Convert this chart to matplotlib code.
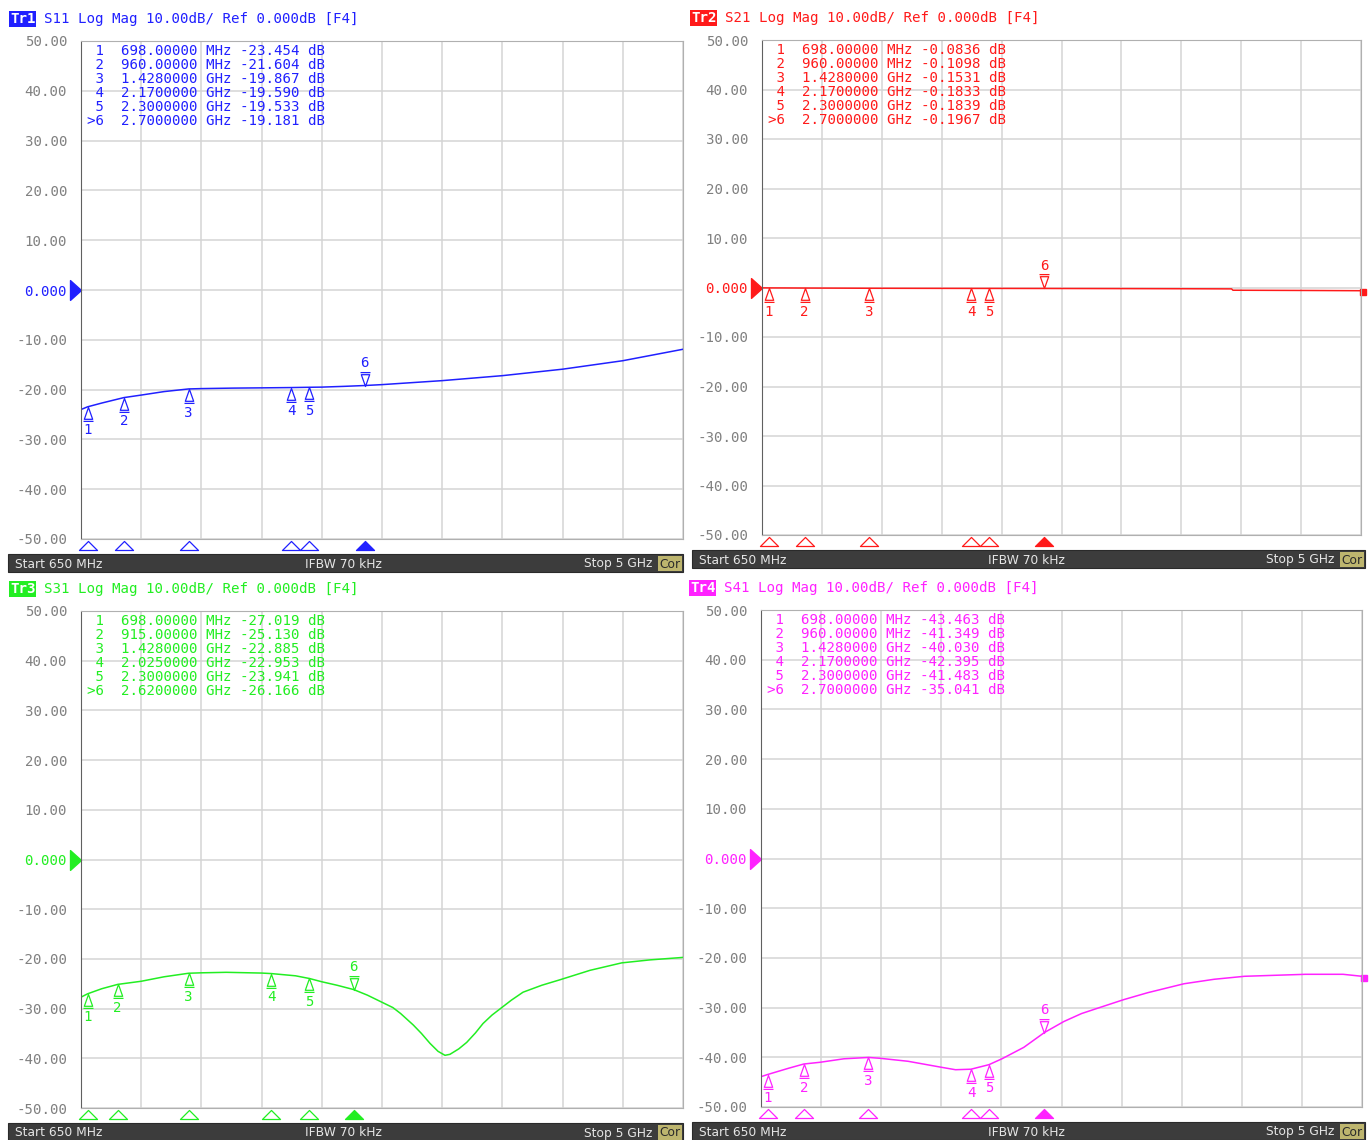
import numpy as np
import matplotlib
matplotlib.use('Agg')
import matplotlib.pyplot as plt
import matplotlib.transforms as mtransforms
from matplotlib.path import Path
from matplotlib.patches import Rectangle

W, H = 1370, 1140
F_START, F_STOP = 650, 5000

# данные трасс (частота в МГц, уровень в дБ)
s11_freq = [650, 698, 800, 960, 1085, 1250, 1428, 1520, 1750, 1955, 2170, 2300, 2390,
            2550, 2700, 2825, 3260, 3695, 4130, 4565, 5000]
s11_db = [-24.0, -23.454, -22.7, -21.604, -21.1, -20.4, -19.867, -19.8, -19.7, -19.65,
          -19.59, -19.533, -19.5, -19.35, -19.181, -19.0, -18.2, -17.2, -15.9, -14.2, -11.9]

s21_freq = [650, 698, 800, 960, 1200, 1428, 1800, 2170, 2300, 2700, 3200, 3700, 4060,
            4070, 4600, 5000]
s21_db = [-0.07, -0.0836, -0.09, -0.1098, -0.13, -0.1531, -0.17, -0.1833, -0.1839,
          -0.1967, -0.22, -0.25, -0.28, -0.55, -0.6, -0.65]

s31_freq = [650, 698, 800, 915, 1085, 1250, 1428, 1520, 1700, 1955, 2025, 2200, 2300,
            2390, 2500, 2620, 2720, 2823, 2904, 2960, 3051, 3110, 3172, 3230, 3280, 3316,
            3380, 3437, 3500, 3555, 3620, 3690, 3760, 3844, 3980, 4111, 4328, 4557, 4761,
            5000]
s31_db = [-27.7, -27.019, -26.0, -25.130, -24.5, -23.6, -22.885, -22.8, -22.7, -22.85,
          -22.953, -23.4, -23.941, -24.6, -25.3, -26.166, -27.3, -28.7, -29.8, -31.0,
          -33.3, -35.0, -37.0, -38.6, -39.4, -39.2, -38.1, -36.8, -34.9, -33.0, -31.3,
          -29.8, -28.3, -26.7, -25.3, -24.2, -22.3, -20.8, -20.2, -19.7]

s41_freq = [650, 698, 850, 960, 1078, 1250, 1428, 1512, 1714, 1954, 2058, 2170, 2300,
            2394, 2552, 2700, 2842, 2970, 3100, 3275, 3449, 3712, 3930, 4150, 4591, 4863,
            5000]
s41_db = [-43.9, -43.463, -42.2, -41.349, -41.0, -40.3, -40.030, -40.2, -40.8, -42.0,
          -42.5, -42.395, -41.483, -40.3, -38.0, -35.041, -32.8, -31.2, -30.0, -28.4,
          -27.0, -25.2, -24.3, -23.7, -23.3, -23.3, -23.7]

# маркеры
mark_labels = ['1', '2', '3', '4', '5', '>6']
s11_mf = [698, 960, 1428, 2170, 2300, 2700]
s11_mv = [-23.454, -21.604, -19.867, -19.590, -19.533, -19.181]
s21_mf = [698, 960, 1428, 2170, 2300, 2700]
s21_mv = [-0.0836, -0.1098, -0.1531, -0.1833, -0.1839, -0.1967]
s31_mf = [698, 915, 1428, 2025, 2300, 2620]
s31_mv = [-27.019, -25.130, -22.885, -22.953, -23.941, -26.166]
s41_mf = [698, 960, 1428, 2170, 2300, 2700]
s41_mv = [-43.463, -41.349, -40.030, -42.395, -41.483, -35.041]

y_ticks = list(range(-50, 51, 10))

MONO = 'DejaVu Sans Mono'
FS = 10.2

panels = [
    dict(tr='Tr1', name='S11', color='#2020ff', f=s11_freq, v=s11_db, mf=s11_mf, mv=s11_mv,
         dec=3, box=(81, 41, 683, 539), bar=(8, 683), edge=False),
    dict(tr='Tr2', name='S21', color='#ff1a1a', f=s21_freq, v=s21_db, mf=s21_mf, mv=s21_mv,
         dec=4, box=(762, 40, 1361, 535), bar=(692, 1365), edge=True),
    dict(tr='Tr3', name='S31', color='#22ee22', f=s31_freq, v=s31_db, mf=s31_mf, mv=s31_mv,
         dec=3, box=(81, 611, 683, 1108), bar=(8, 683), edge=False),
    dict(tr='Tr4', name='S41', color='#ff22ff', f=s41_freq, v=s41_db, mf=s41_mf, mv=s41_mv,
         dec=3, box=(761, 610, 1362, 1107), bar=(692, 1365), edge=True),
]


def fx(x):
    return x / W


def fy(y):
    return 1 - y / H


# формы маркеров
up_path = Path([(0, 0), (-0.3, -0.85), (0.3, -0.85), (0, 0), (-0.36, -1), (0.36, -1)],
               [Path.MOVETO, Path.LINETO, Path.LINETO, Path.CLOSEPOLY, Path.MOVETO, Path.LINETO])
down_path = Path([(0, 0), (-0.3, 0.85), (0.3, 0.85), (0, 0), (-0.36, 1), (0.36, 1)],
                 [Path.MOVETO, Path.LINETO, Path.LINETO, Path.CLOSEPOLY, Path.MOVETO, Path.LINETO])
bottom_path = Path([(0, 1), (-1, 0), (1, 0), (0, 1)],
                   [Path.MOVETO, Path.LINETO, Path.LINETO, Path.CLOSEPOLY])
ref_path = Path([(0, 0), (-1, 0.9), (-1, -0.9), (0, 0)],
                [Path.MOVETO, Path.LINETO, Path.LINETO, Path.CLOSEPOLY])


def freq_text(f):
    if f < 1000:
        return f"{f:.5f} MHz"
    return f"{f / 1000:.7f} GHz"


fig = plt.figure(figsize=(W / 100, H / 100), dpi=100)
fig.patch.set_facecolor('white')

for p in panels:
    l, t, r, b = p['box']
    c = p['color']
    ax = fig.add_axes([fx(l), fy(b), (r - l) / W, (b - t) / H])
    ax.set_xlim(F_START, F_STOP)
    ax.set_ylim(-50, 50)
    ax.set_xticks(np.linspace(F_START, F_STOP, 11))
    ax.set_yticks(y_ticks)
    ax.set_yticklabels(['0.000' if v == 0 else f"{v:.2f}" for v in y_ticks],
                       family=MONO, fontsize=FS, color='#808080')
    ax.get_yticklabels()[5].set_color(c)
    ax.tick_params(length=0, labelbottom=False, pad=10)
    ax.grid(color='#d4d4d4', lw=1.1)
    for s in ['top', 'right', 'bottom']:
        ax.spines[s].set_color('#b0b0b0')
    ax.spines['left'].set_color('#606060')

    ax.plot(p['f'], p['v'], color=c, lw=1.1)

    # маркеры на трассе
    for i, (mf, mv) in enumerate(zip(p['mf'], p['mv'])):
        if i == 5:
            ax.plot(mf, mv, marker=down_path, ms=20, mfc='none', mec=c, mew=0.9)
            ax.annotate('6', (mf, mv), xytext=(0, 16), textcoords='offset points',
                        ha='center', va='center', family=MONO, fontsize=FS, color=c)
        else:
            ax.plot(mf, mv, marker=up_path, ms=20, mfc='none', mec=c, mew=0.9)
            ax.annotate(str(i + 1), (mf, mv), xytext=(0, -17), textcoords='offset points',
                        ha='center', va='center', family=MONO, fontsize=FS, color=c)

    # треугольники под сеткой
    tr_bot = mtransforms.blended_transform_factory(ax.transData, ax.transAxes)
    yb = -11 / (b - t)
    for i, mf in enumerate(p['mf']):
        ax.plot(mf, yb, marker=bottom_path, ms=13, mfc=c if i == 5 else 'none',
                mec=c, mew=0.9, transform=tr_bot, clip_on=False)

    # опорный уровень
    tr_ref = mtransforms.blended_transform_factory(ax.transAxes, ax.transData)
    ax.plot(0, 0, marker=ref_path, ms=15.8, color=c, transform=tr_ref, clip_on=False)
    if p['edge']:
        ax.plot(1.003, p['v'][-1] - 0.3, marker='s', ms=4, color=c, transform=tr_ref,
                clip_on=False)

    # таблица маркеров
    for i, (mf, mv) in enumerate(zip(p['mf'], p['mv'])):
        line = f"{mark_labels[i]:>2}  {freq_text(mf)} {mv:.{p['dec']}f} dB"
        fig.text(fx(l + 6), fy(t + 10 + 14 * i), line, ha='left', va='center',
                 family=MONO, fontsize=FS, color=c)

    # заголовок
    fig.text(fx(l - 71), fy(t - 22), p['tr'], ha='left', va='center', family=MONO,
             fontsize=FS, color='white', weight='bold',
             bbox=dict(boxstyle='square,pad=0.05', fc=c, ec='none'))
    fig.text(fx(l - 37), fy(t - 22), f"{p['name']} Log Mag 10.00dB/ Ref 0.000dB [F4]",
             ha='left', va='center', family=MONO, fontsize=FS, color=c)

    # строка состояния
    bx0, bx1 = p['bar']
    fig.patches.append(Rectangle((fx(bx0), fy(b + 33)), (bx1 - bx0) / W, 18 / H,
                                 transform=fig.transFigure, fc='#3c3c3c', ec='#2a2a2a',
                                 lw=0.8))
    fig.patches.append(Rectangle((fx(bx1 - 25), fy(b + 32)), 24 / W, 15 / H,
                                 transform=fig.transFigure, fc='#bdb56e', ec='none'))
    yb_txt = fy(b + 25)
    fig.text(fx(bx0 + 7), yb_txt, 'Start 650 MHz', ha='left', va='center',
             family='DejaVu Sans', fontsize=8.8, color='#e6e6e6')
    fig.text(fx((bx0 + bx1) / 2 - 2), yb_txt, 'IFBW 70 kHz', ha='center', va='center',
             family='DejaVu Sans', fontsize=8.8, color='#e6e6e6')
    fig.text(fx(bx1 - 31), yb_txt, 'Stop 5 GHz', ha='right', va='center',
             family='DejaVu Sans', fontsize=8.8, color='#e6e6e6')
    fig.text(fx(bx1 - 13), yb_txt, 'Cor', ha='center', va='center',
             family='DejaVu Sans', fontsize=8.8, color='#2a2a2a')

fig.savefig('out.png', dpi=100)
